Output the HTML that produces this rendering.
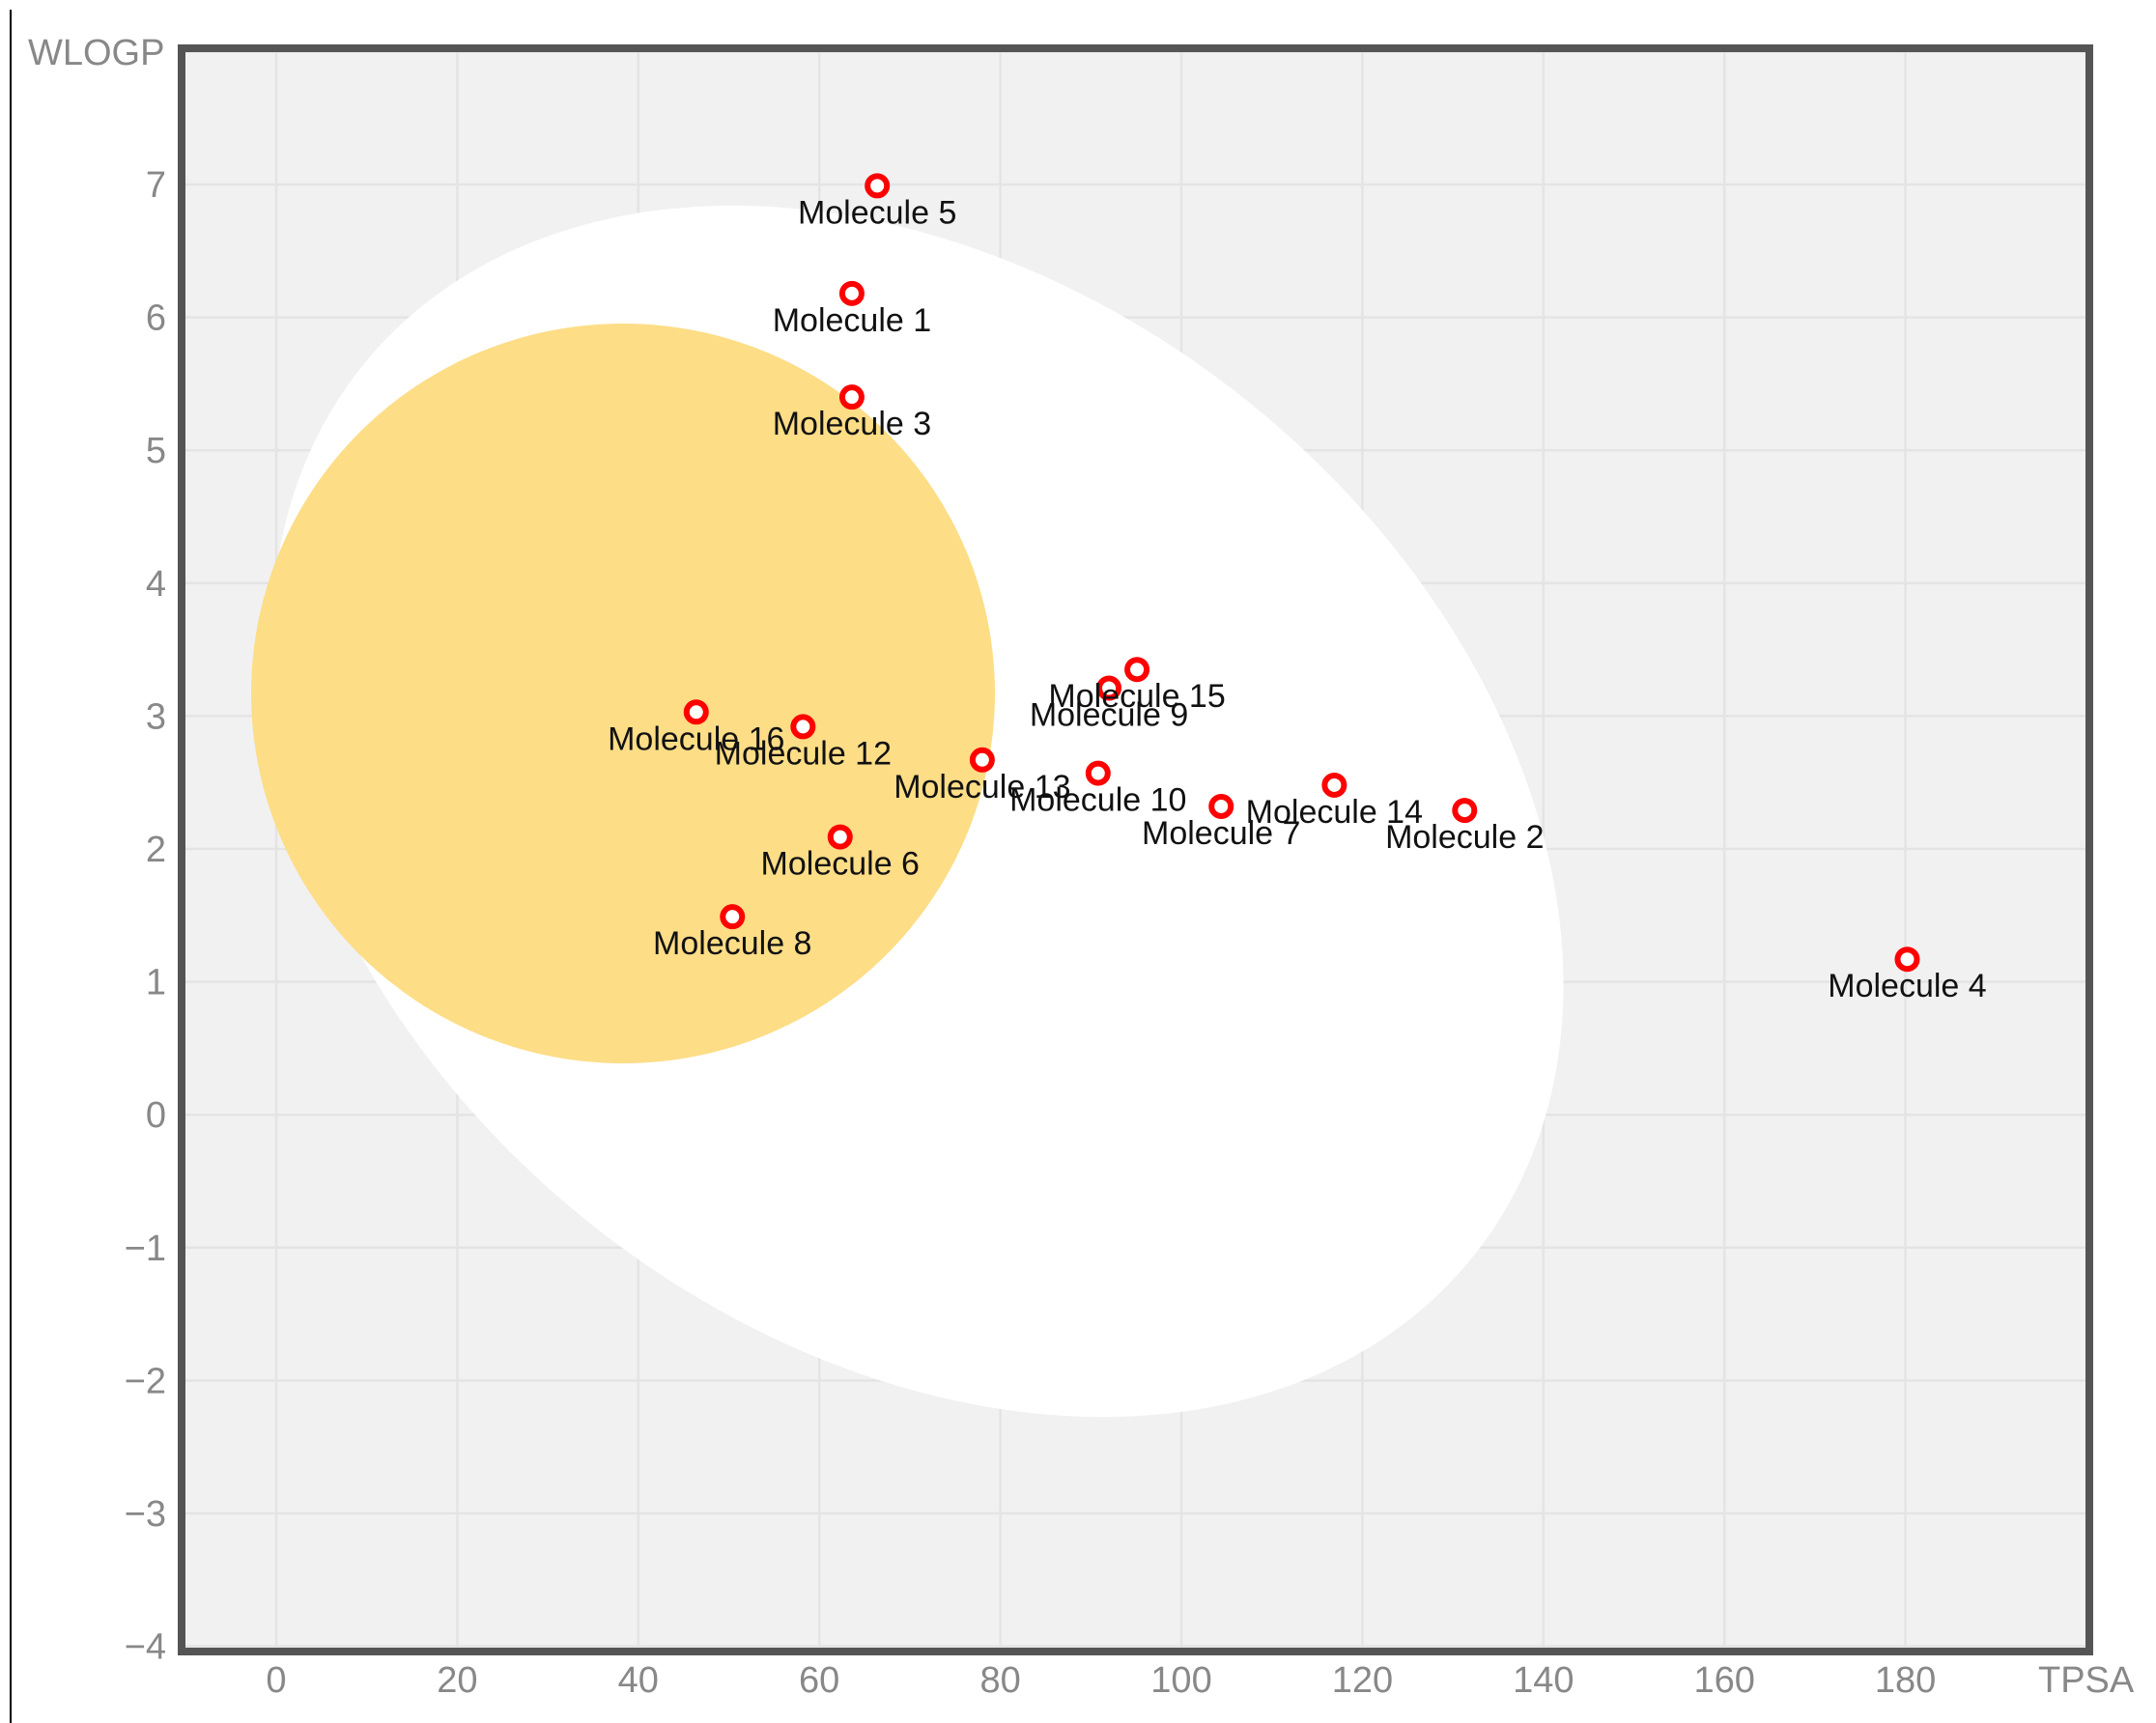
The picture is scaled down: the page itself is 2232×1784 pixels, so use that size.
<!DOCTYPE html>
<html><head><meta charset="utf-8"><style>
html,body{margin:0;padding:0;background:#fff;}
svg{display:block;}
text{font-family:"Liberation Sans",Arial,sans-serif;}
</style></head><body>
<svg id="chart" width="2232" height="1784" viewBox="0 0 2232 1784" xmlns="http://www.w3.org/2000/svg">
<line x1="11" y1="10" x2="11" y2="1784" stroke="#000" stroke-width="2"/>
<rect x="188" y="50" width="1975" height="1660" fill="#f1f1f1"/>
<g id="grid"></g>
<g id="regions"></g>
<g id="points"></g>
<rect x="188" y="50" width="1975" height="1660" fill="none" stroke="#555" stroke-width="8"/>
<g id="ticks"></g>
<text x="29" y="67" font-size="38" fill="#888">WLOGP</text>
<text x="2110" y="1752" font-size="38" fill="#888">TPSA</text>
</svg>
<script>
const names = ["Molecule 1","Molecule 2","Molecule 3","Molecule 4","Molecule 5","Molecule 6","Molecule 7","Molecule 8","Molecule 9","Molecule 10","Molecule 12","Molecule 13","Molecule 14","Molecule 15","Molecule 16"];
const tpsa = [63.6,131.3,63.6,180.2,66.4,62.3,104.4,50.4,92.0,90.8,58.2,78.0,116.9,95.1,46.4];
const wlogp = [6.18,2.29,5.40,1.17,6.99,2.09,2.32,1.49,3.21,2.57,2.92,2.67,2.48,3.35,3.03];
const xTicks = [0,20,40,60,80,100,120,140,160,180];
const yTicks = [-4,-3,-2,-1,0,1,2,3,4,5,6,7];

const NS = "http://www.w3.org/2000/svg";
function X(v){ return 286 + v*9.37; }
function Y(v){ return 191 + (7 - v)*137.6; }
function mk(tag, attrs, parent){
  const e = document.createElementNS(NS, tag);
  for (const k in attrs) e.setAttribute(k, attrs[k]);
  parent.appendChild(e);
  return e;
}
const grid = document.getElementById('grid');
const ticks = document.getElementById('ticks');
for (const t of xTicks.concat([200])) {
  const l = mk('line', {x1:X(t), x2:X(t), y1:50, y2:1710, stroke:'#e4e4e4', 'stroke-width':2.5}, grid);
  
  
}
for (const t of yTicks.concat([8])) {
  const l = mk('line', {x1:188, x2:2163, y1:Y(t), y2:Y(t), stroke:'#e4e4e4', 'stroke-width':2.5}, grid);
  
  
}
for (const t of xTicks) {
  const tx = mk('text', {x:X(t), y:1752, 'font-size':38, fill:'#888', 'text-anchor':'middle'}, ticks);
  tx.textContent = String(t);
  
  
}
for (const t of yTicks) {
  const tx = mk('text', {x:172, y:Y(t)+13, 'font-size':38, fill:'#888', 'text-anchor':'end'}, ticks);
  tx.textContent = t < 0 ? '\u2212' + Math.abs(t) : String(t);
  
  
}
const regions = document.getElementById('regions');
const white = mk('ellipse', {cx:950, cy:840, rx:737, ry:545, fill:'#ffffff', transform:'rotate(38.7 950 840)'}, regions);


const yolk = mk('ellipse', {cx:645, cy:718, rx:385, ry:383, fill:'#fddc82', opacity:0.97}, regions);



const pts = document.getElementById('points');
for (let i = 0; i < names.length; i++) {
  const px = X(tpsa[i]), py = Y(wlogp[i]);
  const c = mk('circle', {cx:px, cy:py, r:10, fill:'#fff', stroke:'#ff0000', 'stroke-width':6}, pts);
  
  
  const t = mk('text', {x:px, y:py+39, 'font-size':34, fill:'#111', 'text-anchor':'middle'}, pts);
  t.textContent = names[i];
  
  
}
</script>
</body></html>
